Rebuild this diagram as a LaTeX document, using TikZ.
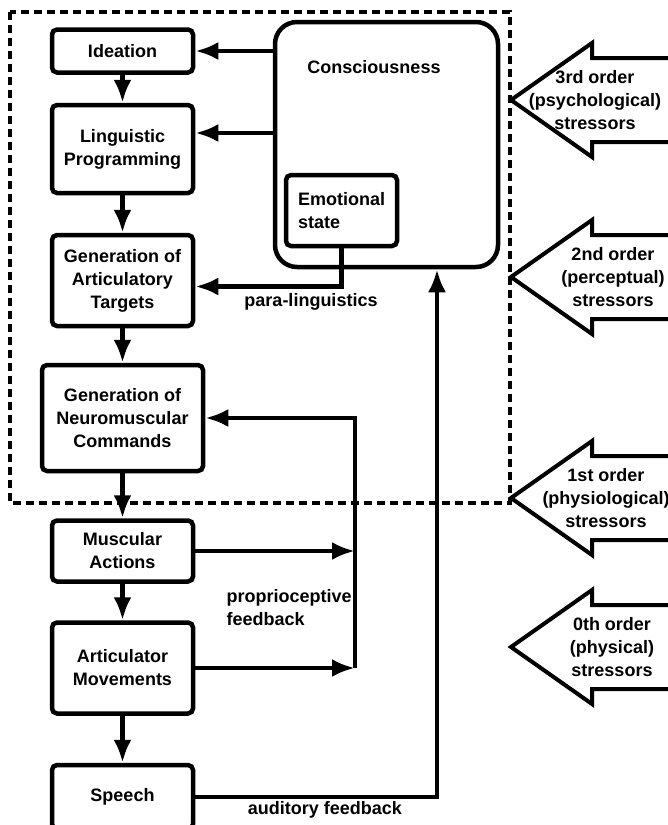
\documentclass[tikz,border=0pt]{standalone}
\usepackage{fontspec}
\setmainfont{Liberation Sans}
\usetikzlibrary{arrows.meta,calc}

\tikzset{
  box/.style={draw, line width=4.5pt, rounded corners=5pt, minimum width=141pt, align=center, inner sep=2pt},
  arr/.style={line width=4.5pt, -{Latex[length=23pt,width=18pt]}},
  ln/.style={line width=4.5pt},
  dashbox/.style={line width=3.5pt, dash pattern=on 8pt off 5pt},
  stress/.style={line width=4pt, line join=miter},
}

\begin{document}
\begin{tikzpicture}[x=1pt, y=-1pt, every node/.style={font=\bfseries\fontsize{18}{23}\selectfont}]
    \useasboundingbox (0,0) rectangle (668,825);

    % Production chain
    \node[box, minimum height=43pt] (ideation) at (122.5,51) {Ideation};
    \node[box, minimum height=88pt] (ling) at (122.5,149) {Linguistic\\Programming};
    \node[box, minimum height=91pt] (targets) at (122.5,280.5) {Generation of\\Articulatory\\Targets};
    \node[box, minimum width=161pt, minimum height=106pt] (neuro) at (122.5,418) {Generation of\\Neuromuscular\\Commands};
    \node[box, minimum height=61pt] (muscular) at (122.5,551) {Muscular\\Actions};
    \node[box, minimum height=91pt] (artic) at (122.5,668) {Articulator\\Movements};
    \node[box, minimum height=64pt] (speech) at (122.5,797) {Speech};

    \draw[arr] (ideation) -- (ling);
    \draw[arr] (ling) -- (targets);
    \draw[arr] (targets) -- (neuro);
    \draw[arr] (neuro) -- (muscular);
    \draw[arr] (muscular) -- (artic);
    \draw[arr] (artic) -- (speech);

    % Consciousness
    \node[box, rounded corners=22pt, minimum width=223pt, minimum height=245pt] (consc) at (386.5,144.5) {};
    \node (conscText) at (374,67) {Consciousness};
    \node[box, minimum width=111pt, minimum height=71pt, align=left] (emot) at (341.5,210.5) {Emotional\\state};

    \draw[arr] (consc.west |- ideation.east) -- (ideation.east);
    \draw[arr] (consc.west |- 0,133) -- (ling.east |- 0,133);
    \draw[arr] (emot.south) |- ([yshift=-6pt]targets.east);
    \node (para) at (311,302) {para-linguistics};

    % Feedback loops
    \coordinate (propTop) at (355,418);
    \coordinate (propBot) at (355,668);
    \draw[arr] (muscular.east) -- (muscular.east -| propTop);
    \draw[arr] (artic.east) -- (propBot);
    \draw[arr] (propBot) -- (propTop) -- (neuro.east);
    \node[anchor=west, align=left] (prop) at (223,608) {proprioceptive\\feedback};

    \draw[arr] (speech.east) -| ([xshift=50.5pt]consc.south);
    \node (aud) at (325,810) {auditory feedback};

    % Dashed boundary
    \draw[dashbox] (10,12) rectangle (510,503);

    % Stressors
    \foreach \yy/\xx/\txt in {100/595/{3rd order\\(psychological)\\stressors},
                              277/613/{2nd order\\(perceptual)\\stressors},
                              498/606/{1st order\\(physiological)\\stressors},
                              647/612/{0th order\\(physical)\\stressors}}{
      \draw[stress] (700,\yy-42) -- (592,\yy-42) -- (592,\yy-57) -- (511,\yy)
        -- (592,\yy+57) -- (592,\yy+42) -- (700,\yy+42);
      \node[align=center] (s\yy) at (\xx,\yy) {\txt};
    }
\end{tikzpicture}
\end{document}
